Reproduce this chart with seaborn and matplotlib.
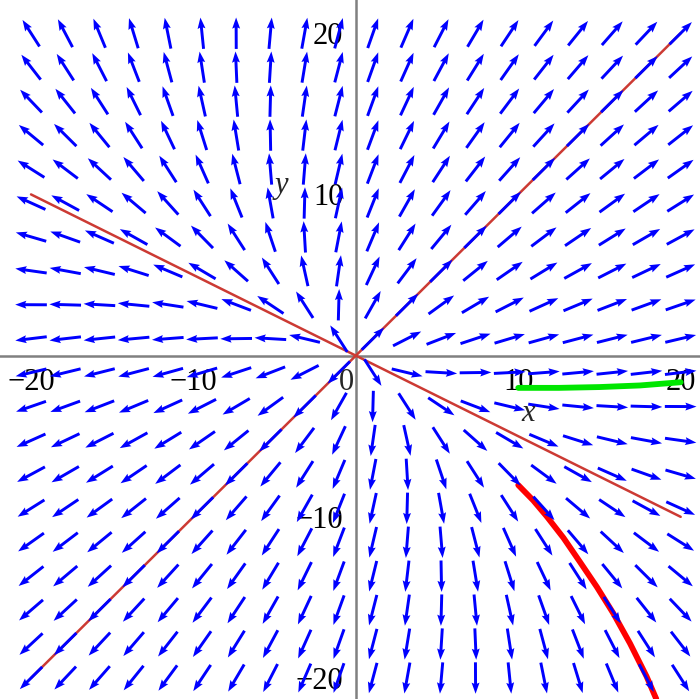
import numpy as np
import pandas as pd
import matplotlib
matplotlib.use("Agg")
import matplotlib.pyplot as plt
import seaborn as sns

# ---- data ----
# linear system  x' = a11 x + a12 y ,  y' = a21 x + a22 y
A = [[11, 4], [2, 13]]
grid_n = 20
grid_lo, grid_hi = -20, 20

# straight-line (eigenvector) solutions
line_x = [-20, 20]
line1_y = [-20, 20]      # y = x
line2_y = [10, -10]      # y = -x/2

# solution curves
green_x = [10.0, 12.5, 15.0, 17.5, 20.0]
green_y = [-2.0, -2.0, -1.95, -1.85, -1.65]
red_x = [10.0, 10.92, 11.75, 12.78, 13.8, 14.84, 15.86, 16.88, 17.9, 18.43, 18.5]
red_y = [-8.03, -8.98, -9.97, -11.30, -12.80, -14.35, -16.0, -17.85, -19.9, -21.14, -21.3]

xticks = [-20, -10, 10, 20]
yticks = [-20, -10, 10, 20]
xminor = [-15, -5, 5, 15]
yminor = [-15, -5, 5, 15]

# ---- figure ----
sns.set_style("white")
plt.rcParams['font.family'] = ['Liberation Serif', 'DejaVu Serif']

fig = plt.figure(figsize=(7.0, 6.99), dpi=100)
ax = fig.add_axes([0, 0, 1, 1])
ax.set_xlim(-21.91, 21.19)
ax.set_ylim(-21.30, 22.06)

# direction field
g = np.linspace(grid_lo, grid_hi, grid_n)
X, Y = np.meshgrid(g, g)
U = A[0][0] * X + A[0][1] * Y
V = A[1][0] * X + A[1][1] * Y
N = np.hypot(U, V)
L = 1.95
ax.quiver(X, Y, L * U / N, L * V / N, angles='xy', scale_units='xy', scale=1,
          pivot='middle', color='#0000ff', width=0.0042, headwidth=2.7,
          headlength=3.8, headaxislength=3.4, zorder=4)

# eigenvector lines
sns.lineplot(x=line_x, y=line1_y, ax=ax, color='#cc3a33', lw=1.8, zorder=3,
             sort=False, estimator=None)
sns.lineplot(x=line_x, y=line2_y, ax=ax, color='#cc3a33', lw=1.8, zorder=3,
             sort=False, estimator=None)

# solution curves
sns.lineplot(x=green_x, y=green_y, ax=ax, color='#00e600', lw=4.2, zorder=3,
             sort=False, estimator=None)
sns.lineplot(x=red_x, y=red_y, ax=ax, color='#ff0000', lw=4.2, zorder=3,
             sort=False, estimator=None)

# axes through origin
for s in ['top', 'right']:
    ax.spines[s].set_visible(False)
for s in ['left', 'bottom']:
    ax.spines[s].set_position(('data', 0))
    ax.spines[s].set_color('#808080')
    ax.spines[s].set_linewidth(1.8)
    ax.spines[s].set_zorder(2)

ax.set_xticks(xticks)
ax.set_yticks(yticks)
ax.set_xticks(xminor, minor=True)
ax.set_yticks(yminor, minor=True)
ax.set_xticklabels([f"\u2212{abs(t)}" if t < 0 else str(t) for t in xticks])
ax.set_yticklabels([f"\u2212{abs(t)}" if t < 0 else str(t) for t in yticks])
ax.tick_params(axis='both', which='major', direction='out', length=6, width=1.5,
               color='#808080', labelsize=22, labelcolor='black')
ax.tick_params(axis='both', which='minor', direction='out', length=3.5, width=1.5,
               color='#808080')
ax.tick_params(axis='x', pad=3)
ax.tick_params(axis='y', pad=3)
for lab in ax.get_xticklabels() + ax.get_yticklabels():
    lab.set_zorder(6)

ax.text(-0.55, -0.75, "0", ha='center', va='top', fontsize=22, zorder=6)
ax.text(10.6, -3.56, "x", ha='center', va='center', fontsize=22, style='italic', zorder=6)
ax.text(-4.6, 10.58, "y", ha='center', va='center', fontsize=22, style='italic', zorder=6)

ax.set_xlabel("")
ax.set_ylabel("")
fig.savefig("out.png", dpi=100)
